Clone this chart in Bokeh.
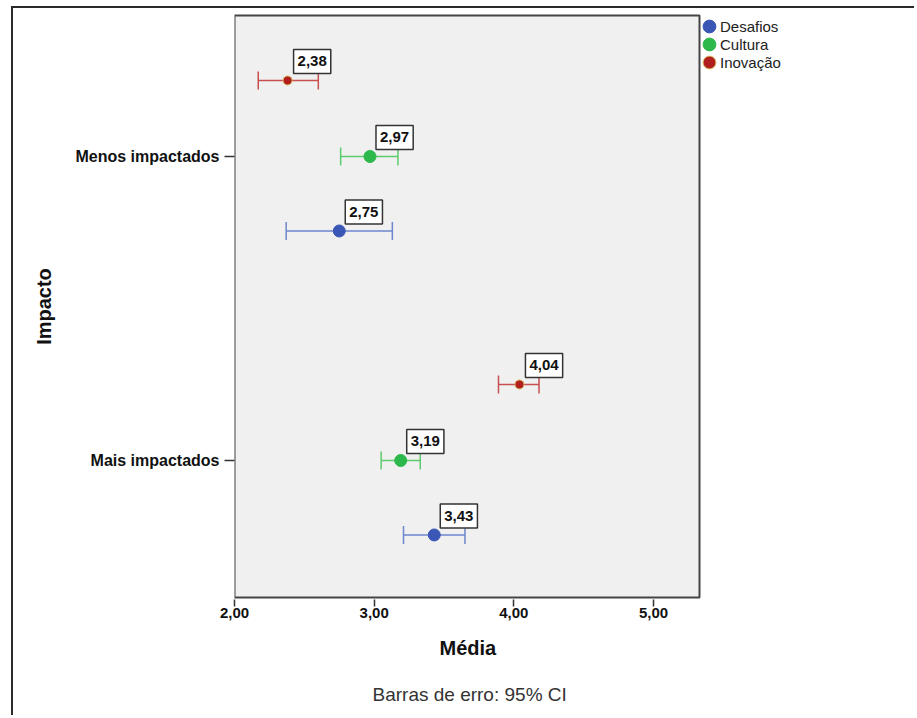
from bokeh.plotting import figure
from bokeh.models import (ColumnDataSource, Whisker, TeeHead, Label, Legend, LegendItem,
                          FixedTicker, Title, Range1d, BoxAnnotation)
from bokeh.embed import file_html
from bokeh.resources import INLINE

# ---- data ----
categories = ["Mais impactados", "Menos impactados"]
cat_pos = [0, 1]
series = ["Desafios", "Cultura", "Inovação"]
desafios_mean = [3.43, 2.75]
desafios_lo = [3.21, 2.37]
desafios_hi = [3.65, 3.13]
cultura_mean = [3.19, 2.97]
cultura_lo = [3.05, 2.76]
cultura_hi = [3.33, 3.17]
inovacao_mean = [4.04, 2.38]
inovacao_lo = [3.89, 2.17]
inovacao_hi = [4.18, 2.60]
x_ticks = [2, 3, 4, 5]
x_tick_labels = ["2,00", "3,00", "4,00", "5,00"]

means = [desafios_mean, cultura_mean, inovacao_mean]
lows = [desafios_lo, cultura_lo, inovacao_lo]
highs = [desafios_hi, cultura_hi, inovacao_hi]
offsets = [-0.245, 0.0, 0.25]
marker_colors = ["#3A57B5", "#2DB84B", "#B01E1E"]
marker_lines = ["#3A57B5", "#2DB84B", "#D8B860"]
marker_sizes = [12, 12, 9]
bar_colors = ["#6E86CC", "#5CCB6C", "#C64F4F"]

FONT = "Liberation Sans"

# visible plot area (grey box) in data units; the real frame extends right to hold the legend
X0, X1 = 2.0, 5.329
Y0, Y1 = -0.4507, 1.4638
PX_PER_X = 465 / (X1 - X0)
PX_PER_Y = 304.0
FRAME_W = 903 - 221
x_end = X0 + FRAME_W / PX_PER_X
pad_y = 2 / PX_PER_Y

p = figure(width=903, height=709, x_range=Range1d(X0, x_end),
           y_range=Range1d(Y0 - pad_y, Y1 + pad_y),
           output_backend="svg", toolbar_location=None,
           min_border_left=221, min_border_right=0, min_border_top=5, min_border_bottom=118,
           y_axis_label="Impacto")
p.background_fill_color = "white"
p.border_fill_color = "white"
p.outline_line_color = None
p.grid.visible = False
p.styles = {"border-left": "2px solid #2a2a2a", "border-top": "2px solid #2a2a2a",
            "margin-left": "11px", "margin-top": "6px"}

p.add_layout(BoxAnnotation(left=X0, right=X1, bottom=Y0, top=Y1, fill_color="#F0F0F0",
                           fill_alpha=1, line_color="#444444", line_alpha=1, line_width=2,
                           level="underlay"))

for ax in (p.xaxis[0], p.yaxis[0]):
    ax.axis_line_color = None
    ax.major_tick_out = 7
    ax.major_tick_in = 0
    ax.minor_tick_line_color = None
    ax.major_tick_line_color = "#333333"
    ax.major_tick_line_width = 1.5
    ax.major_label_text_font = FONT
    ax.major_label_text_font_style = "bold"
    ax.major_label_text_font_size = "15px"
    ax.major_label_text_color = "#111111"
    ax.axis_label_text_font = FONT
    ax.axis_label_text_font_style = "bold"
    ax.axis_label_text_font_size = "20px"
    ax.axis_label_text_color = "#111111"

p.xaxis[0].ticker = FixedTicker(ticks=x_ticks)
p.xaxis[0].major_label_overrides = dict(zip(x_ticks, x_tick_labels))
p.xaxis[0].major_label_standoff = 1
p.yaxis[0].ticker = FixedTicker(ticks=cat_pos)
p.yaxis[0].major_label_overrides = dict(zip(cat_pos, categories))
p.yaxis[0].major_label_text_font_size = "16px"
p.yaxis[0].major_tick_out = 10
p.yaxis[0].major_label_standoff = 5
p.yaxis[0].axis_label_standoff = 17

items = []
for i, name in enumerate(series):
    ys = [c + offsets[i] for c in cat_pos]
    src = ColumnDataSource(dict(y=ys, lo=lows[i], hi=highs[i], mean=means[i]))
    w = Whisker(source=src, base="y", lower="lo", upper="hi", dimension="width",
                line_color=bar_colors[i], line_width=1.5,
                upper_head=TeeHead(size=18, line_color=bar_colors[i], line_width=1.5),
                lower_head=TeeHead(size=18, line_color=bar_colors[i], line_width=1.5))
    p.add_layout(w)
    r = p.ellipse("mean", "y", source=src, width=marker_sizes[i], height=marker_sizes[i],
                  width_units="screen", height_units="screen", fill_color=marker_colors[i],
                  line_color=marker_lines[i], line_width=1)
    items.append(LegendItem(label=name, renderers=[r]))
    for m, yy in zip(means[i], ys):
        txt = f"{m:.2f}".replace(".", ",")
        p.add_layout(Label(x=m, y=yy, text=txt, anchor="bottom_left", x_offset=6, y_offset=7,
                           text_font=FONT, text_font_style="bold", text_font_size="15px",
                           text_color="#111111", background_fill_color="white",
                           border_line_color="#333333", border_line_width=1.5,
                           padding=(4, 4, 7, 7)))

legend = Legend(items=items, location=(467, 528), glyph_width=16, glyph_height=16, spacing=0,
                label_height=18, label_standoff=3, padding=0, margin=0, border_line_color=None,
                background_fill_alpha=0, label_text_font=FONT, label_text_font_size="15px",
                label_text_color="#222222")
p.add_layout(legend)

p.add_layout(Title(text="Média", align="left", offset=205, standoff=28, text_font=FONT,
                   text_font_size="20px", text_font_style="bold", text_color="#111111"), "below")
p.add_layout(Title(text="Barras de erro: 95% CI", align="left", offset=138, standoff=18,
                   text_font=FONT, text_font_size="19px", text_font_style="normal",
                   text_color="#333333"), "below")

open("out.html", "w").write(file_html(p, INLINE))
